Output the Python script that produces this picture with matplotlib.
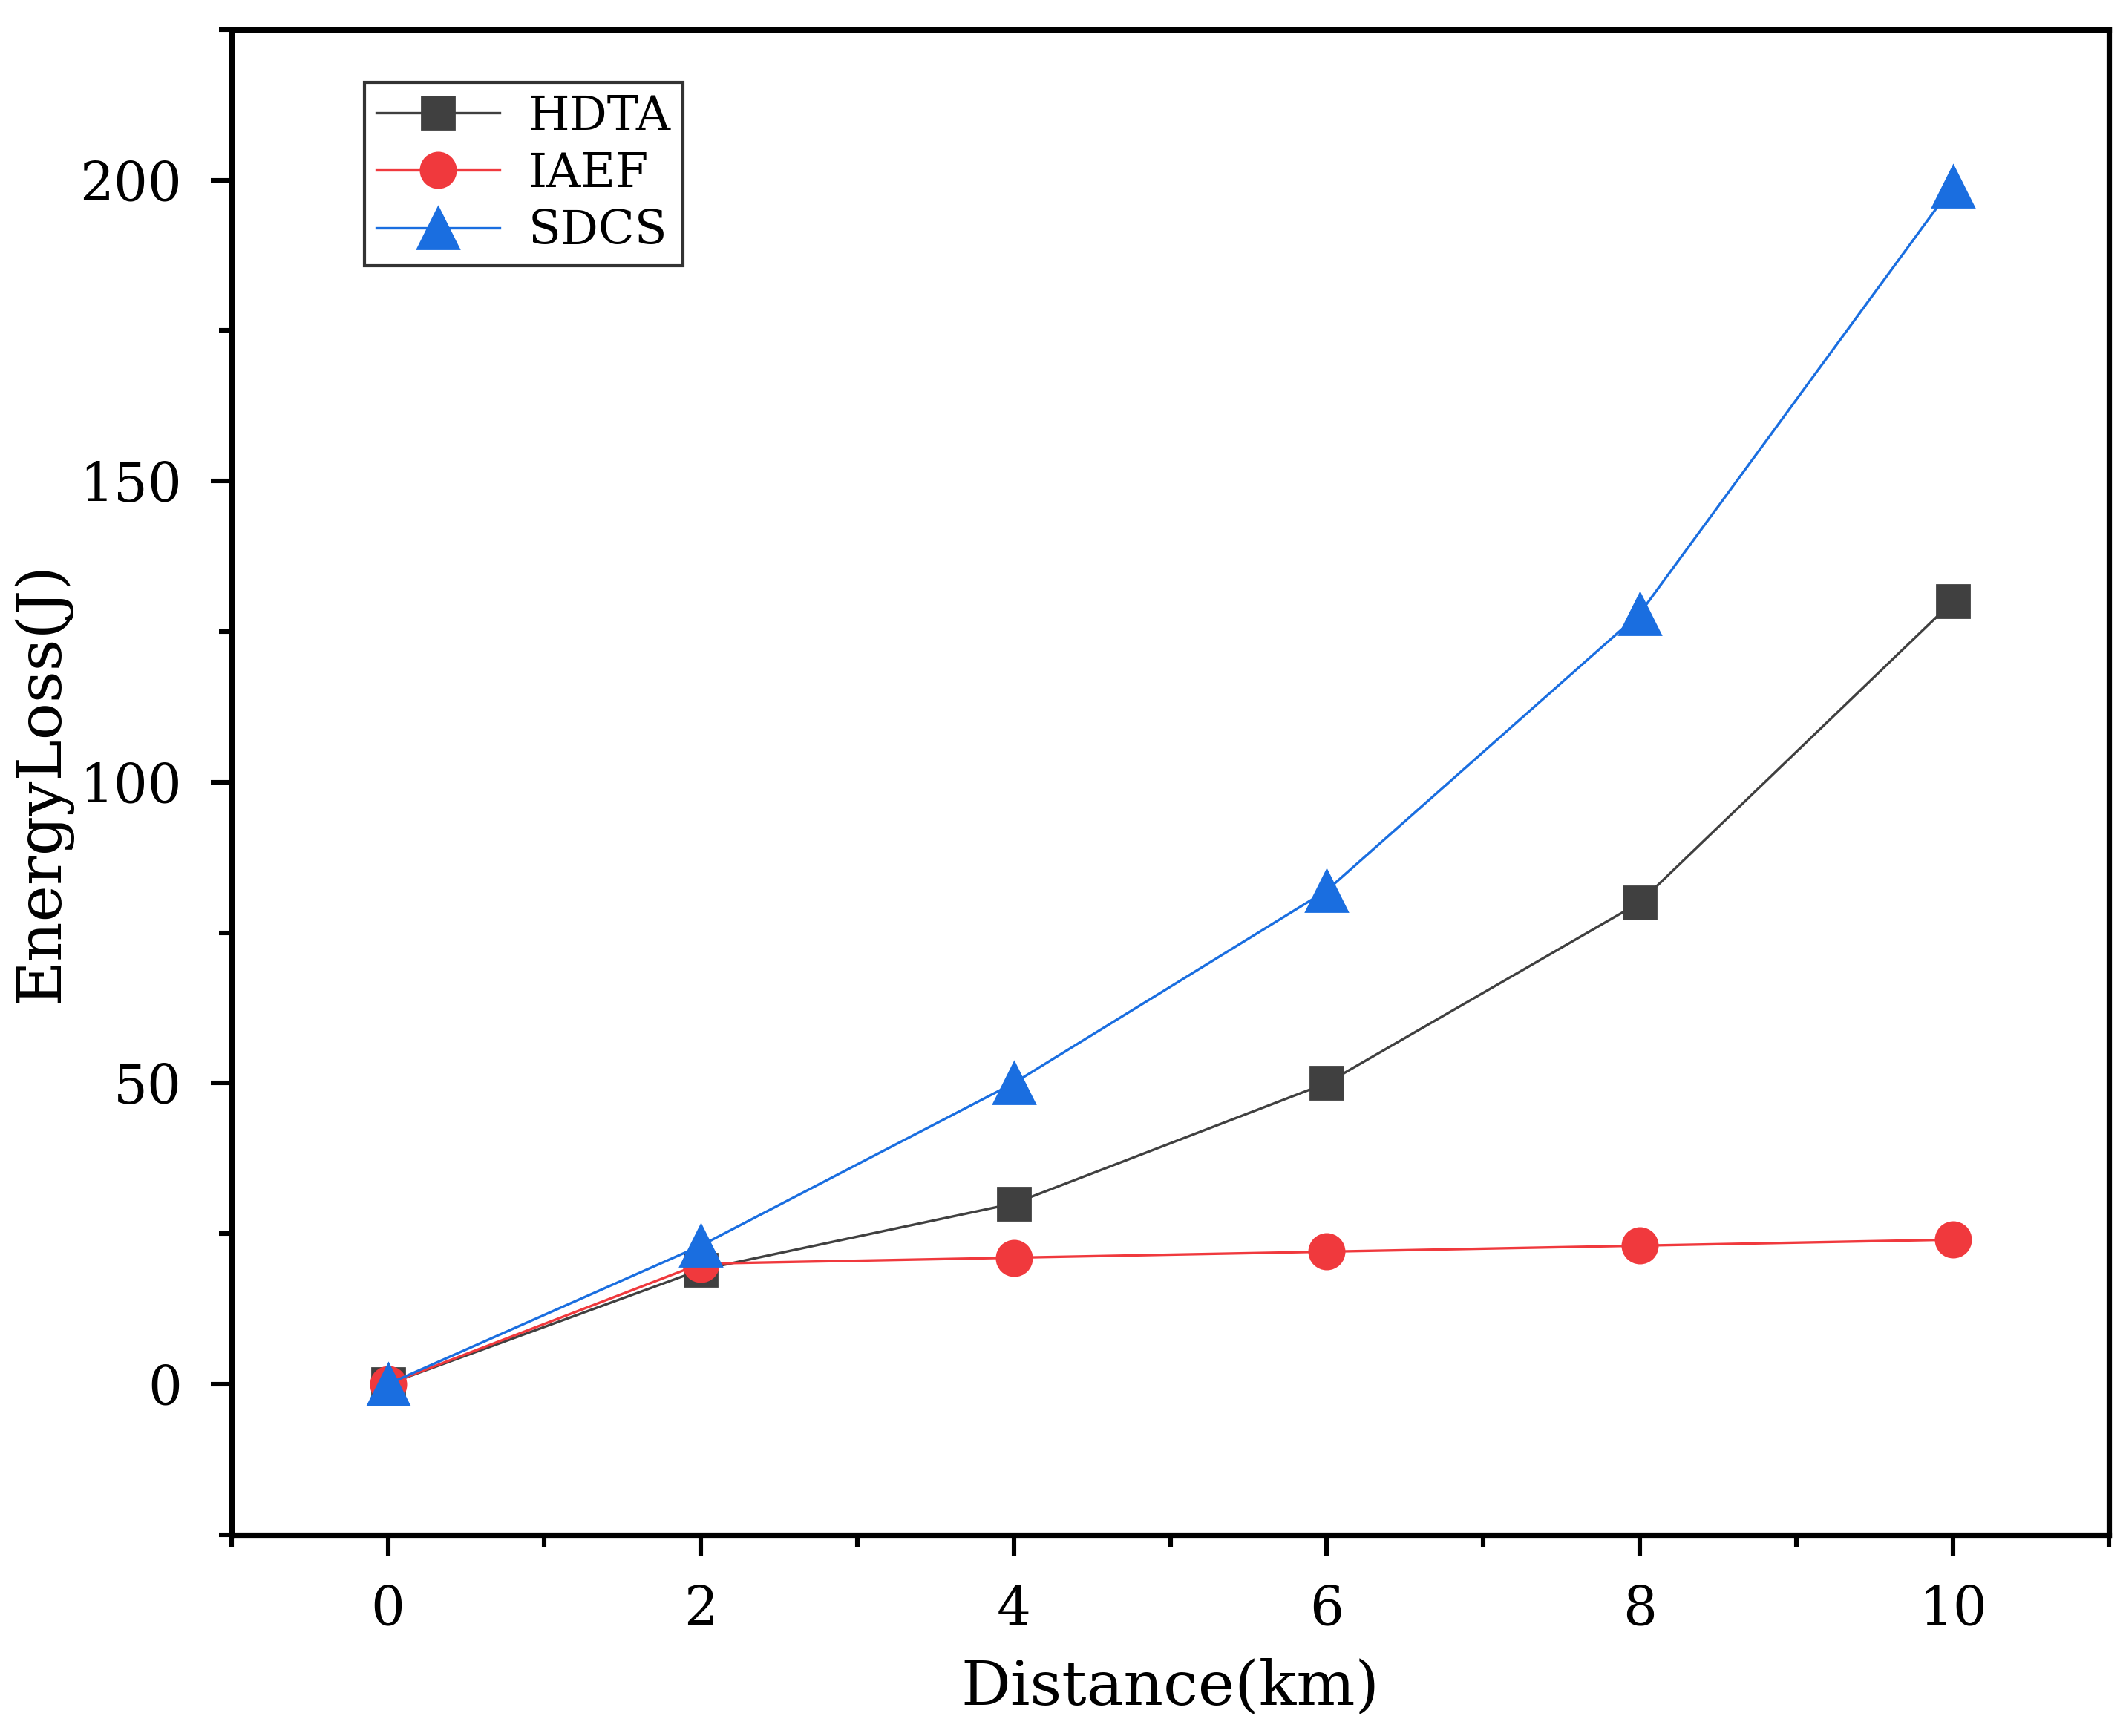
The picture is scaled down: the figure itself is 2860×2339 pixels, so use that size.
import matplotlib
matplotlib.use("Agg")
import matplotlib.pyplot as plt
from matplotlib.ticker import MultipleLocator

distance = [0, 2, 4, 6, 8, 10]
hdta = [0, 19, 30, 50, 80, 130]
iaef = [0, 20, 21, 22, 23, 24]
sdcs = [0, 23, 50, 82, 128, 199]

plt.rcParams["font.family"] = "DejaVu Serif"
fig = plt.figure(figsize=(14.3, 11.695), dpi=200)
ax = fig.add_axes([0.109, 0.116, 0.8845, 0.867])
ax.plot(distance, hdta, color="#404040", lw=1.2, marker="s", ms=16, label="HDTA")
ax.plot(distance, iaef, color="#f0393d", lw=1.2, marker="o", ms=17, label="IAEF")
ax.plot(distance, sdcs, color="#1a6ee0", lw=1.2, marker="^", ms=20, label="SDCS")
ax.set_xlim(-1, 11)
ax.set_ylim(-25, 225)
ax.xaxis.set_major_locator(MultipleLocator(2))
ax.xaxis.set_minor_locator(MultipleLocator(1))
ax.yaxis.set_major_locator(MultipleLocator(50))
ax.yaxis.set_minor_locator(MultipleLocator(25))
ax.tick_params(which="major", length=10, width=2.2, labelsize=26, direction="out", pad=14)
ax.tick_params(which="minor", length=6, width=2.2, direction="out")
for s in ax.spines.values():
    s.set_linewidth(2.6)
ax.set_xlabel("Distance(km)", fontsize=30, labelpad=10)
ax.set_ylabel("EnergyLoss(J)", fontsize=30)
leg = ax.legend(loc="upper left", bbox_to_anchor=(0.071, 0.965), fontsize=23, fancybox=False,
                edgecolor="black", handlelength=2.6, handletextpad=0.6, borderpad=0.25,
                labelspacing=0.25, borderaxespad=0)
leg.get_frame().set_linewidth(1.5)
fig.savefig("out.png", dpi=200)
